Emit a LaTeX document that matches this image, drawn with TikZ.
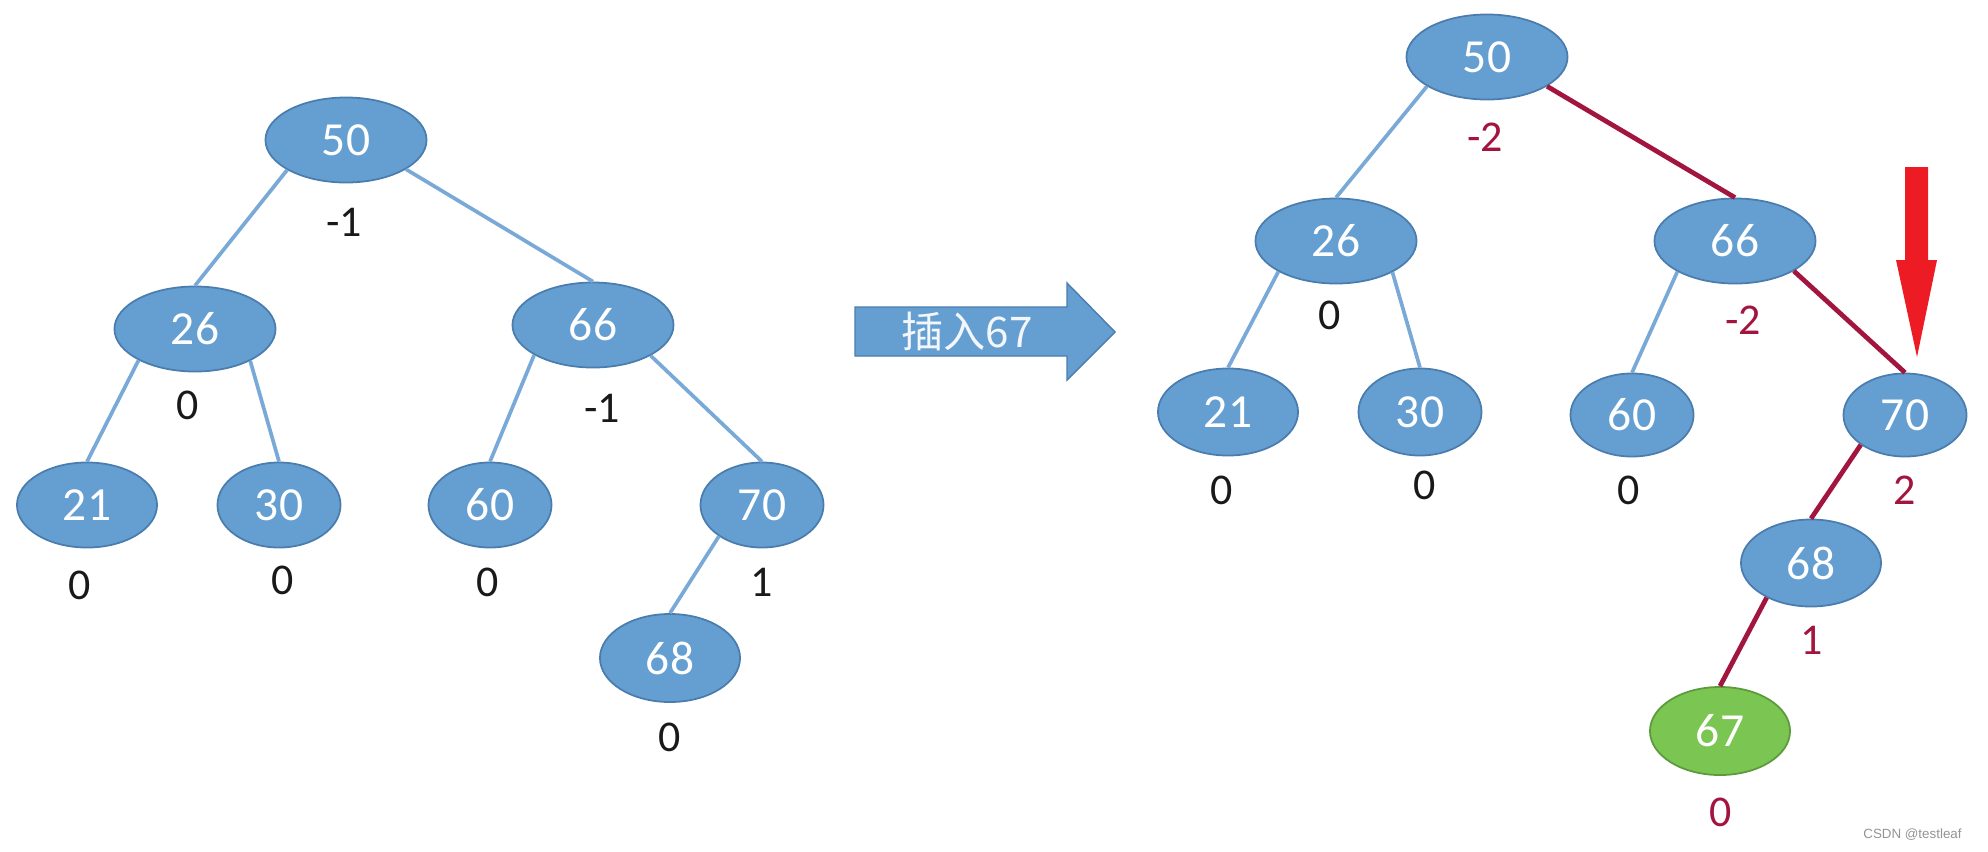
\documentclass[tikz,border=0pt]{standalone}
\usepackage{fontspec}
\setmainfont{Carlito}
\newfontfamily\cjk{Noto Sans CJK SC}
\newfontfamily\wmfont{Liberation Sans}
\usetikzlibrary{shapes.geometric}
\definecolor{nodefill}{HTML}{659FD2}
\definecolor{nodedraw}{HTML}{4A7DAE}
\definecolor{edgeblue}{HTML}{78A9D7}
\definecolor{edgered}{HTML}{A2153F}
\definecolor{greenfill}{HTML}{7BC652}
\definecolor{greendraw}{HTML}{5C9A3C}
\definecolor{arrowred}{HTML}{ED1C24}

\begin{document}
\begin{tikzpicture}[x=0.01cm,y=-0.01cm,
  keynode/.style={ellipse,draw=nodedraw,line width=0.5pt,fill=nodefill,text=white,inner sep=0pt,
    minimum width=1.61cm,minimum height=0.85cm,font=\fontsize{13.5}{13.5}\selectfont},
  leafnode/.style={keynode,minimum width=1.23cm},
  midnode/.style={keynode,minimum width=1.40cm,minimum height=0.88cm},
  bal/.style={font=\fontsize{12.5}{12.5}\selectfont,text=black!90,inner sep=0pt},
  balred/.style={bal,text=edgered},
  blueedge/.style={draw=edgeblue,line width=1.05pt},
  rededge/.style={draw=edgered,line width=1.35pt}]
\useasboundingbox (0,0) rectangle (1988,851);

\node[keynode] (n50) at (346,140) {50};
\node[keynode] (n26) at (195,329) {26};
\node[keynode] (n66) at (593,325) {66};
\node[midnode,minimum height=0.85cm] (n21) at (87,505) {21};
\node[leafnode] (n30) at (279,505) {30};
\node[leafnode] (n60) at (490,505) {60};
\node[leafnode] (n70) at (762,505) {70};
\node[midnode] (n68) at (670,658) {68};
\node[bal] (b50) at (344,222) {-1};
\node[bal] (b26) at (188,405) {0};
\node[bal] (b66) at (602,408) {-1};
\node[bal] (b21) at (80,585) {0};
\node[bal] (b30) at (283,580) {0};
\node[bal] (b60) at (488,582) {0};
\node[bal] (b70) at (762,582) {1};
\node[bal] (b68) at (670,737) {0};
\draw[blueedge] (n50.-153) -- (n26.north);
\draw[blueedge] (n50.-26) -- (n66.north);
\draw[blueedge] (n26.-151) -- (n21.north);
\draw[blueedge] (n26.-30) -- (n30.north);
\draw[blueedge] (n66.-153) -- (n60.north);
\draw[blueedge] (n66.-28) -- (n70.north);
\draw[blueedge] (n70.-144) -- (n68.north);

\draw[draw=nodedraw,line width=0.4pt,fill=nodefill]
  (855,307) -- (1067,307) -- (1067,283) -- (1115,332) -- (1067,380) -- (1067,356) -- (855,356) -- cycle;
\node[text=white!92!nodefill,font=\cjk\fontsize{12}{12}\selectfont] (ins) at (967,331) {插入67};

\node[keynode] (r50) at (1487,57) {50};
\node[keynode] (r26) at (1336,241) {26};
\node[keynode] (r66) at (1735,241) {66};
\node[midnode,minimum height=0.87cm] (r21) at (1228,412) {21};
\node[leafnode,minimum height=0.87cm] (r30) at (1420,412) {30};
\node[leafnode,minimum height=0.83cm] (r60) at (1632,415) {60};
\node[leafnode,minimum height=0.83cm] (r70) at (1905,415) {70};
\node[midnode,minimum height=0.87cm] (r68) at (1811,563) {68};
\node[midnode,fill=greenfill,draw=greendraw] (r67) at (1720,731) {67};
\node[balred] (c50) at (1485,137) {-2};
\node[bal] (c26) at (1330,315) {0};
\node[balred] (c66) at (1743,320) {-2};
\node[bal] (c21) at (1222,490) {0};
\node[bal] (c30) at (1425,485) {0};
\node[bal] (c60) at (1629,490) {0};
\node[balred] (c70) at (1905,490) {2};
\node[balred] (c68) at (1812,640) {1};
\node[balred] (c67) at (1721,812) {0};
\draw[blueedge] (r50.-154) -- (r26.north);
\draw[rededge] (r50.-26) -- (r66.north);
\draw[blueedge] (r26.-152) -- (r21.north);
\draw[blueedge] (r26.-29) -- (r30.north);
\draw[blueedge] (r66.-152) -- (r60.north);
\draw[rededge] (r66.-27) -- (r70.north);
\draw[rededge] (r70.-146) -- (r68.north);
\draw[rededge] (r68.-142) -- (r67.north);

\fill[arrowred] (1905,167) -- (1928,167) -- (1928,260) -- (1937,260) -- (1917,357) -- (1896,260) -- (1905,260) -- cycle;

\node[text=gray!85,font=\wmfont\fontsize{3.8}{4}\selectfont,anchor=east] (wm) at (1974,835) {CSDN @testleaf};
\end{tikzpicture}
\end{document}
